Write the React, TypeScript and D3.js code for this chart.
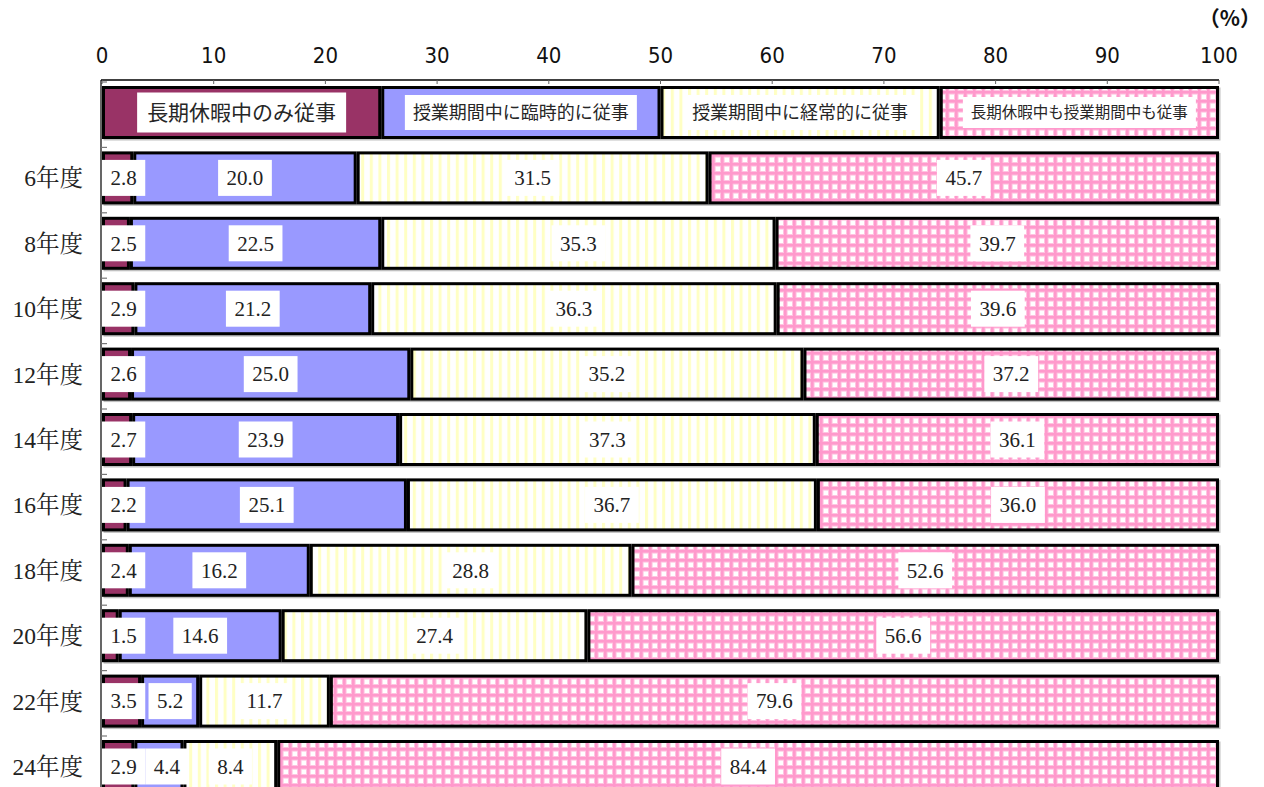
import React from "react";
import * as d3 from "d3";

const years = ["6年度", "8年度", "10年度", "12年度", "14年度", "16年度", "18年度", "20年度", "22年度", "24年度"];
const seriesNames = ["長期休暇中のみ従事", "授業期間中に臨時的に従事", "授業期間中に経常的に従事", "長期休暇中も授業期間中も従事"];
const vacationOnly = [2.8, 2.5, 2.9, 2.6, 2.7, 2.2, 2.4, 1.5, 3.5, 2.9];
const termTemporary = [20.0, 22.5, 21.2, 25.0, 23.9, 25.1, 16.2, 14.6, 5.2, 4.4];
const termRegular = [31.5, 35.3, 36.3, 35.2, 37.3, 36.7, 28.8, 27.4, 11.7, 8.4];
const both = [45.7, 39.7, 39.6, 37.2, 36.1, 36.0, 52.6, 56.6, 79.6, 84.4];
const xTicks = [0, 10, 20, 30, 40, 50, 60, 70, 80, 90, 100];

const W = 1264;
const H = 787;
const fills = ["#993366", "#9999FF", "url(#pYellow)", "url(#pPink)"];
const legendFont = [21, 18, 18, 15.5];
const legendBoxH = [40, 35, 35, 31];

export default function App() {
  const x = d3.scaleLinear().domain([0, 100]).range([102, 1219]);
  const rows = ["legend", ...years];
  const y = d3.scaleBand<string>().domain(rows).range([81, 81 + 65.4 * rows.length]).padding(0);
  const barTop = (r: string) => (y(r) as number) + 5;
  const barH = 53;

  const table = years.map((yr, i) => ({
    year: yr,
    v: [vacationOnly[i], termTemporary[i], termRegular[i], both[i]],
  }));
  const stack = d3.stack<any>().keys(["0", "1", "2", "3"]).value((d: any, k: string) => {
    const tot = d3.sum(d.v as number[]);
    return (d.v[+k] / tot) * 100;
  });
  const stacked = stack(table);

  const labelFont = 21;
  const charW = (s: string) => s.split("").reduce((a, c) => a + (c === "." ? 0.25 : 0.5) * labelFont, 0);

  const legendSegs = [0, 1, 2, 3].map((k) => [k * 25, (k + 1) * 25]);

  return (
    <svg width={W} height={H} style={{ display: "block", position: "absolute", left: 0, top: 0 }}>
      <defs>
        <pattern id="pYellow" width="8.6" height="8.6" patternUnits="userSpaceOnUse">
          <rect width="8.6" height="8.6" fill="#ffffff" />
          <rect x="0" width="3" height="8.6" fill="#FFFFC4" />
        </pattern>
        <pattern id="pPink" width="9" height="9" patternUnits="userSpaceOnUse">
          <rect width="9" height="9" fill="#ffffff" />
          <rect x="0" width="4.6" height="9" fill="#FFC4E1" />
          <rect y="0" width="9" height="4.6" fill="#FFC4E1" />
          <rect x="1" width="2.6" height="9" fill="#FF99CC" />
          <rect y="1" width="9" height="2.6" fill="#FF99CC" />
        </pattern>
      </defs>
      <rect width={W} height={H} fill="#ffffff" />

      {/* unit */}
      <text x={1261} y={26} textAnchor="end" fontFamily="'Noto Sans CJK JP', sans-serif" fontSize={21} fontWeight={700} fill="#111">（%）</text>

      {/* x tick labels */}
      {xTicks.map((t) => (
        <text key={t} x={x(t)} y={63} textAnchor="middle" fontFamily="'Liberation Sans Narrow', 'DejaVu Sans Condensed', 'Roboto', sans-serif" fontStretch="condensed" fontSize={22} fill="#111">{t}</text>
      ))}

      {/* top axis line and ticks */}
      <line x1={x(0) - 1} x2={x(100)} y1={80} y2={80} stroke="#000" strokeWidth={1.5} />
      {xTicks.map((t) => (
        <line key={"tk" + t} x1={x(t)} x2={x(t)} y1={80} y2={84} stroke="#666" strokeWidth={1} />
      ))}
      {/* left axis */}
      <line x1={101} x2={101} y1={80} y2={H} stroke="#000" strokeWidth={1.2} />
      {rows.map((r) => (
        <line key={"lt" + r} x1={101} x2={107} y1={(y(r) as number) + 1} y2={(y(r) as number) + 1} stroke="#777" strokeWidth={1.2} />
      ))}

      {/* legend bar */}
      <g>
        <rect x={x(0) + 1.5} y={barTop("legend") + 1.5} width={x(100) - x(0)} height={barH} fill="#c0c0c0" />
        {legendSegs.map(([a, b], k) => (
          <rect key={"lg" + k} x={x(a) + 1.5} y={barTop("legend") + 1.5} width={x(b) - x(a) - 3} height={barH - 3} fill={fills[k]} stroke="#000" strokeWidth={3} />
        ))}
        {legendSegs.map(([a, b], k) => {
          const cx = (x(a) + x(b)) / 2;
          const cy = barTop("legend") + barH / 2;
          const tw = seriesNames[k].length * legendFont[k];
          const bw = tw + (k === 0 ? 20 : 16);
          return (
            <g key={"lt" + k}>
              <rect x={cx - bw / 2} y={cy - legendBoxH[k] / 2} width={bw} height={legendBoxH[k]} fill="#fff" />
              <text x={cx} y={cy} dy="0.36em" textAnchor="middle" fontFamily="'Noto Sans CJK JP', sans-serif" fontSize={legendFont[k]} fill="#262626">{seriesNames[k]}</text>
            </g>
          );
        })}
      </g>

      {/* category labels */}
      {years.map((yr) => (
        <text key={"cl" + yr} x={83} y={barTop(yr) + barH / 2} dy="0.36em" textAnchor="end" fontFamily="'Liberation Serif', 'Noto Serif CJK JP', serif" fontSize={23.5} fill="#222">{yr}</text>
      ))}

      {/* bars */}
      {table.map((row, i) => {
        const top = barTop(row.year);
        return (
          <g key={"bar" + row.year}>
            <rect x={x(0) + 1.5} y={top + 1.5} width={x(100) - x(0)} height={barH} fill="#c0c0c0" />
            {stacked.map((s, k) => {
              const [a, b] = s[i];
              return (
                <rect key={k} x={x(a) + 1.5} y={top + 1.5} width={Math.max(0, x(Math.min(b, 100)) - x(a) - 3)} height={barH - 3} fill={fills[k]} stroke="#000" strokeWidth={3} />
              );
            })}
          </g>
        );
      })}

      {/* value labels */}
      {table.map((row, i) => {
        const top = barTop(row.year);
        const cy = top + barH / 2;
        let prevRight = x(0);
        const boxes = stacked.map((s, k) => {
          const [a, b] = s[i];
          const label = row.v[k].toFixed(1);
          const bw = charW(label) + 17;
          let cx = (x(a) + x(Math.min(b, 100))) / 2;
          if (cx - bw / 2 < prevRight) cx = prevRight + bw / 2;
          prevRight = cx + bw / 2;
          return { cx, bw, label };
        });
        return (
          <g key={"lab" + row.year}>
            {boxes.map((bx, k) => (
              <g key={k}>
                <rect x={bx.cx - bx.bw / 2} y={cy - 18} width={bx.bw} height={36} fill="#fff" />
                <text x={bx.cx} y={cy} dy="0.35em" textAnchor="middle" fontFamily="'Liberation Serif', serif" fontSize={labelFont} fill="#222">{bx.label}</text>
              </g>
            ))}
          </g>
        );
      })}
    </svg>
  );
}
